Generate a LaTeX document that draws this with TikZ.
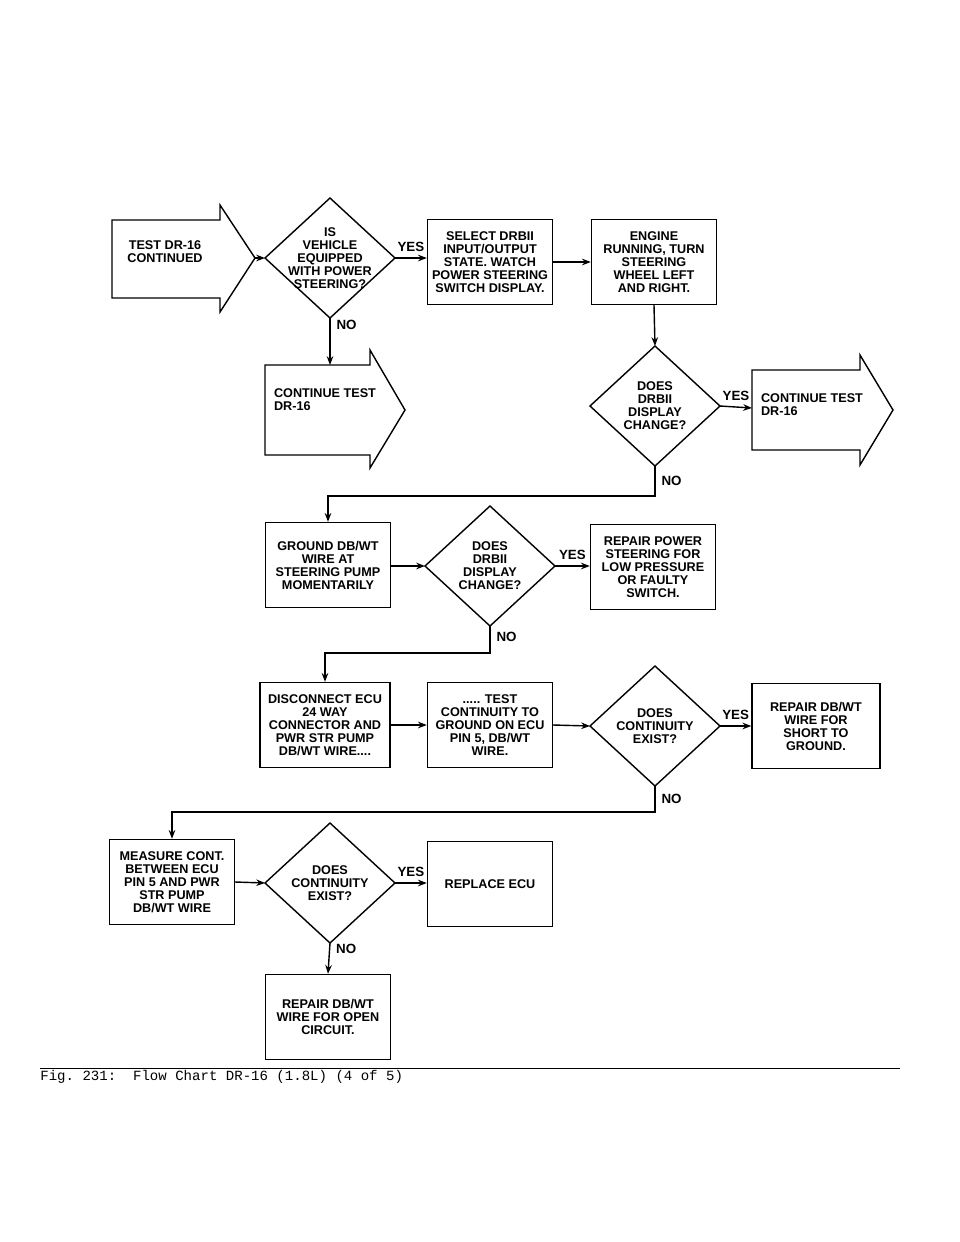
\documentclass[tikz,border=0pt]{standalone}
\usepackage{fontspec}
\setmainfont{Liberation Sans}
\setmonofont{Liberation Mono}
\usetikzlibrary{arrows.meta,positioning}
\tikzset{
  chart/.style={font=\fontsize{7.2}{7.4}\selectfont\bfseries, align=center, inner sep=1pt},
  stepbox/.style={chart, draw, thick, minimum width=125*0.02cm, minimum height=85*0.02cm},
  flow/.style={thick, -{Stealth[length=5pt]}},
  lbl/.style={font=\fontsize{7.6}{8}\selectfont\bfseries}
}
% diamond drawn from its centre: name, x, y, text
\newcommand{\querybox}[4]{%
  \node[chart] (#1) at (#2,#3) {#4};
  \coordinate (#1-n) at (#2,#3-60);
  \coordinate (#1-s) at (#2,#3+60);
  \coordinate (#1-w) at (#2-65,#3);
  \coordinate (#1-e) at (#2+65,#3);
  \draw[thick] (#1-n) -- (#1-e) -- (#1-s) -- (#1-w) -- cycle;}
\begin{document}
\begin{tikzpicture}[x=0.02cm, y=-0.02cm]
\useasboundingbox (0,0) rectangle (960,1242);

% big arrows
\draw[thick] (112,220) -- (220,220) -- (220,205) -- (255,258) -- (220,312) -- (220,298) -- (112,298) -- cycle;
\node[chart] (start) at (165,252) {TEST DR-16\\CONTINUED};
\draw[thick] (265,365) -- (370,365) -- (370,350) -- (405,410) -- (370,468) -- (370,455) -- (265,455) -- cycle;
\node[chart, align=left] (cont1) at (325,400) {CONTINUE TEST\\DR-16};
\draw[thick] (752,370) -- (860,370) -- (860,355) -- (893,410) -- (860,465) -- (860,450) -- (752,450) -- cycle;
\node[chart, align=left] (cont2) at (812,405) {CONTINUE TEST\\DR-16};
\coordinate (s1) at (255,258);
\coordinate (c1) at (330,365);
\coordinate (c2) at (752,408);

% nodes
\querybox{d1}{330}{258}{IS\\VEHICLE\\EQUIPPED\\WITH POWER\\STEERING?}
\node[stepbox] (select) at (490,262) {SELECT DRBII\\INPUT/OUTPUT\\STATE. WATCH\\POWER STEERING\\SWITCH DISPLAY.};
\node[stepbox] (engine) at (654,262) {ENGINE\\RUNNING, TURN\\STEERING\\WHEEL LEFT\\AND RIGHT.};
\querybox{d2}{655}{406}{DOES\\DRBII\\DISPLAY\\CHANGE?}
\node[stepbox] (ground) at (328,565) {GROUND DB/WT\\WIRE AT\\STEERING PUMP\\MOMENTARILY};
\querybox{d3}{490}{566}{DOES\\DRBII\\DISPLAY\\CHANGE?}
\node[stepbox] (repairps) at (653,567) {REPAIR POWER\\STEERING FOR\\LOW PRESSURE\\OR FAULTY\\SWITCH.};
\node[stepbox, minimum width=130*0.02cm] (disc) at (325,725) {DISCONNECT ECU\\24 WAY\\CONNECTOR AND\\PWR STR PUMP\\DB/WT WIRE....};
\node[stepbox] (test) at (490,725) {..... TEST\\CONTINUITY TO\\GROUND ON ECU\\PIN 5, DB/WT\\WIRE.};
\querybox{d4}{655}{726}{DOES\\CONTINUITY\\EXIST?}
\node[stepbox, minimum width=128*0.02cm] (short) at (816,726) {REPAIR DB/WT\\WIRE FOR\\SHORT TO\\GROUND.};
\node[stepbox] (measure) at (172,882) {MEASURE CONT.\\BETWEEN ECU\\PIN 5 AND PWR\\STR PUMP\\DB/WT WIRE};
\querybox{d5}{330}{883}{DOES\\CONTINUITY\\EXIST?}
\node[stepbox] (replace) at (490,884) {REPLACE ECU};
\node[stepbox] (open) at (328,1017) {REPAIR DB/WT\\WIRE FOR OPEN\\CIRCUIT.};

% connectors
\draw[flow] (s1) -- (d1-w);
\draw[flow] (d1-e) -- node[lbl, above] {YES} (select.west |- d1-e);
\draw[flow] (select.east) -- (engine.west);
\draw[flow] (d1-s) -- node[lbl, pos=0.15, right] {NO} (c1);
\draw[flow] (engine.south) -- (d2-n);
\draw[flow] (d2-e) -- node[lbl, above] {YES} (c2);
\draw[flow] (d2-s) -- node[lbl, pos=0.5, right] {NO} ++(0,30) -| (ground.north);
\draw[flow] (ground.east |- d3-w) -- (d3-w);
\draw[flow] (d3-e) -- node[lbl, above] {YES} (repairps.west |- d3-e);
\draw[flow] (d3-s) -- node[lbl, pos=0.4, right] {NO} ++(0,27) -| (disc.north);
\draw[flow] (disc.east) -- (test.west);
\draw[flow] (test.east) -- (d4-w);
\draw[flow] (d4-e) -- node[lbl, above] {YES} (short.west |- d4-e);
\draw[flow] (d4-s) -- node[lbl, right] {NO} ++(0,26) -| (measure.north);
\draw[flow] (measure.east) -- (d5-w);
\draw[flow] (d5-e) -- node[lbl, above] {YES} (replace.west |- d5-e);
\draw[flow] (d5-s) -- node[lbl, pos=0.2, right] {NO} (open.north);

% caption
\draw (40,1068) -- (900,1068);
\node[anchor=west, font=\ttfamily\fontsize{8}{9}\selectfont, inner sep=0pt] (cap) at (40,1077) {Fig. 231:\ \ Flow Chart DR-16 (1.8L) (4 of 5)};
\end{tikzpicture}
\end{document}
